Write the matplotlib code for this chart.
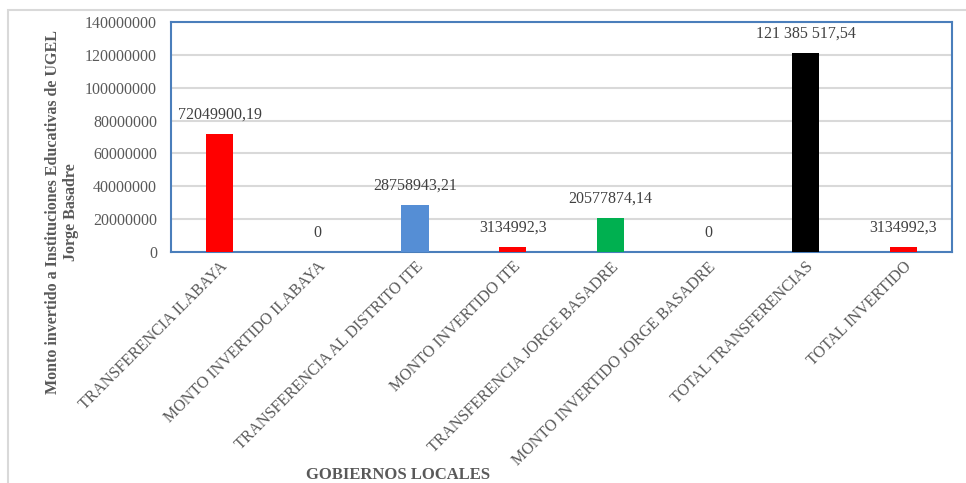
import matplotlib
matplotlib.use("Agg")
import matplotlib.pyplot as plt
from matplotlib.patches import Rectangle

categorias = [
    "TRANSFERENCIA ILABAYA",
    "MONTO INVERTIDO ILABAYA",
    "TRANSFERENCIA AL DISTRITO ITE",
    "MONTO INVERTIDO ITE",
    "TRANSFERENCIA JORGE BASADRE",
    "MONTO INVERTIDO JORGE BASADRE",
    "TOTAL TRANSFERENCIAS",
    "TOTAL INVERTIDO",
]
montos = [72049900.19, 0, 28758943.21, 3134992.3, 20577874.14, 0, 121385517.54, 3134992.3]
etiquetas = ["72049900,19", "0", "28758943,21", "3134992,3", "20577874,14", "0",
             "121 385 517,54", "3134992,3"]
colores = ["#ff0000", "#ff0000", "#558ed5", "#ff0000", "#00b050", "#ff0000", "#000000", "#ff0000"]
yticks = list(range(0, 140000001, 20000000))

plt.rcParams['font.family'] = ['Liberation Serif', 'DejaVu Serif']

fig = plt.figure(figsize=(9.66, 4.83), dpi=100)
ax = fig.add_axes([171/966, 1 - 252/483, (952 - 171)/966, (252 - 22)/483])

# marco exterior del grafico
fig.patches.append(Rectangle((8/966, -0.1), 1.0, 1 - 10/483 + 0.1, transform=fig.transFigure,
                             fill=False, edgecolor="#d9d9d9", linewidth=1.5))

x = range(len(categorias))
ax.bar(x, montos, width=0.28, color=colores, zorder=3)

for i, (v, t) in enumerate(zip(montos, etiquetas)):
    ax.annotate(t, (i, v), xytext=(0, 8), textcoords="offset points",
                ha="center", va="bottom", fontsize=11.5, color="#404040")

ax.set_xlim(-0.5, len(categorias) - 0.5)
ax.set_ylim(0, 140000000)
ax.set_yticks(yticks)
ax.set_yticklabels([str(v) for v in yticks], fontsize=11.5, color="#595959")
ax.set_xticks(list(x))
ax.set_xticklabels(categorias, rotation=45, ha="right", rotation_mode="anchor",
                   fontsize=11.5, color="#595959")
ax.tick_params(axis="x", length=0, pad=5)
ax.tick_params(axis="y", length=0, pad=10)
ax.grid(axis="y", color="#d9d9d9", linewidth=1.5, zorder=0)

for s in ax.spines.values():
    s.set_color("#4a7ebb")
    s.set_linewidth(1.5)

fig.text(62/966, 1 - 212/483,
         "Monto invertido a Instituciones Educativas de UGEL\nJorge Basadre",
         rotation=90, ha="center", va="center", multialignment="center",
         fontsize=11.5, fontweight="bold", color="#595959")
fig.text(398/966, 1 - 475/483, "GOBIERNOS LOCALES", ha="center", va="center",
         fontsize=12, fontweight="bold", color="#595959")

fig.savefig("out.png", dpi=100)
